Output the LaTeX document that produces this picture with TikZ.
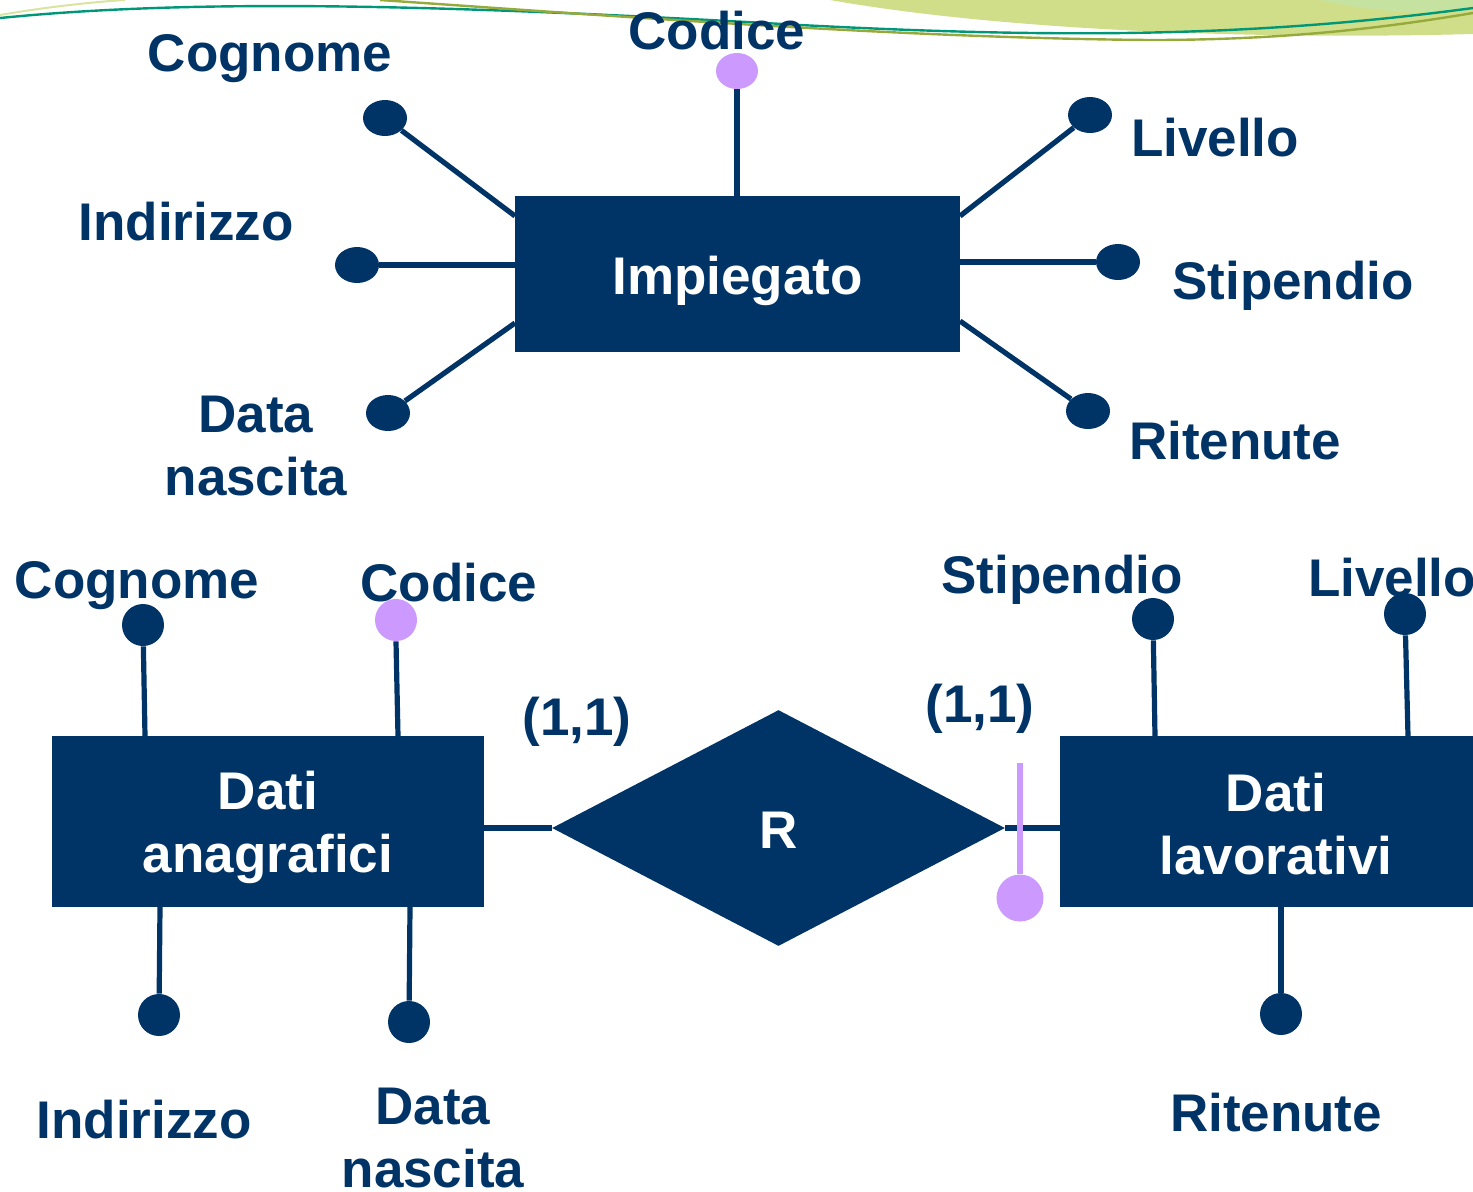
\documentclass[tikz,border=0pt]{standalone}
\usepackage{fontspec}
\setmainfont{Liberation Sans}
\usetikzlibrary{shapes.geometric}
\definecolor{navy}{RGB}{0,51,102}
\definecolor{lilac}{RGB}{204,153,255}
\definecolor{leaf}{RGB}{208,222,138}
\definecolor{leaflight}{RGB}{198,226,160}
\definecolor{teal}{RGB}{0,150,120}
\definecolor{olive}{RGB}{150,170,60}
\begin{document}
\begin{tikzpicture}[x=0.5pt,y=-0.5pt,
  lbl/.style={text=navy,font=\fontsize{26.5}{31.5}\selectfont\bfseries,align=center,inner sep=0pt},
  entity/.style={fill=navy,text=white,font=\fontsize{26.5}{31.5}\selectfont\bfseries,align=center,inner sep=0pt},
  dot/.style={circle,fill=navy,inner sep=0pt,minimum size=21pt},
  oval/.style={ellipse,fill=navy,inner sep=0pt,minimum width=22pt,minimum height=18pt},
  keydot/.style={circle,fill=lilac,inner sep=0pt,minimum size=21pt},
  link/.style={draw=navy,line width=2.6pt},
  keylink/.style={draw=lilac,line width=3pt}]
\useasboundingbox (0,0) rectangle (1473,1191);

% decorative swoosh along the top edge
\fill[leaf] (830,0) .. controls (1000,30) and (1250,40) .. (1473,34) -- (1473,0) -- cycle;
\fill[leaflight] (1320,0) .. controls (1380,14) and (1430,14) .. (1473,10) -- (1473,0) -- cycle;
\draw[leaf!80!white,line width=1pt] (0,15) .. controls (40,8) and (90,2) .. (125,0);
\draw[teal,line width=1.2pt] (0,18) .. controls (200,-2) and (450,5) .. (800,25) .. controls (1050,38) and (1250,38) .. (1473,8);
\draw[olive,line width=1.2pt] (380,0) .. controls (600,15) and (900,38) .. (1150,40) .. controls (1300,40) and (1400,25) .. (1473,13);

% ---------- upper schema ----------
\node[entity,minimum width=222.5pt,minimum height=78pt] (imp) at (737.5,274) {};
\node[entity] (impt) at (737.5,281) {Impiegato};

\node[keydot,ellipse,minimum width=21pt,minimum height=18pt] (cod) at (737,71) {};
\node[oval] (cog) at (385,118) {};
\node[oval] (ind) at (357,265) {};
\node[oval] (dat) at (388,413) {};
\node[oval] (liv) at (1090,115) {};
\node[oval] (sti) at (1118,262) {};
\node[oval] (rit) at (1088,411) {};

\coordinate (iN) at (737,196);
\coordinate (iW1) at (515,216);
\coordinate (iW2) at (515,265);
\coordinate (iW3) at (515,323);
\coordinate (iE1) at (960,216);
\coordinate (iE2) at (960,262);
\coordinate (iE3) at (960,321);

\draw[link] (cod.south) -- (iN);
\draw[link] (cog) -- (iW1);
\draw[link] (ind) -- (iW2);
\draw[link] (dat) -- (iW3);
\draw[link] (liv) -- (iE1);
\draw[link] (sti) -- (iE2);
\draw[link] (rit) -- (iE3);

\node[lbl] (tcod) at (717,31) {Codice};
\node[lbl] (tcog) at (270,59) {Cognome};
\node[lbl] (tind) at (186,222) {Indirizzo};
\node[lbl] (tdat) at (256,446) {Data\\nascita};
\node[lbl] (tliv) at (1215,138) {Livello};
\node[lbl] (tsti) at (1293,286) {Stipendio};
\node[lbl] (trit) at (1235,441) {Ritenute};

% ---------- lower schema ----------
\node[entity,minimum width=216pt,minimum height=85.5pt] (ana) at (268,821.5) {};
\node[entity] (anat) at (268,827) {Dati\\anagrafici};
\node[entity,minimum width=220pt,minimum height=85.5pt] (lav) at (1280,821.5) {};
\node[entity] (lavt) at (1276,824) {Dati\\lavorativi};
\fill[white] (1473,700) rectangle (1600,950);
\node[diamond,fill=navy,text=white,font=\fontsize{26.5}{31.5}\selectfont\bfseries,inner sep=0pt,
      minimum width=226.5pt,minimum height=118pt] (rel) at (778.5,828) {};
\node[entity] (relt) at (778.5,830) {R};

\draw[link] (ana.east |- rel.west) -- (rel.west);
\draw[link] (rel.east) -- (lav.west |- rel.east);

\node[dot] (acog) at (143,625) {};
\node[keydot] (acod) at (396,620) {};
\node[dot] (aind) at (159,1015) {};
\node[dot] (adat) at (409,1022) {};
\node[dot] (lsti) at (1153,619) {};
\node[dot] (lliv) at (1405,614) {};
\node[dot] (lrit) at (1281,1014) {};

\coordinate (aN1) at (145,736);
\coordinate (aN2) at (398,736);
\coordinate (aS1) at (160,907);
\coordinate (aS2) at (410,907);
\coordinate (lN1) at (1155,736);
\coordinate (lN2) at (1408,736);
\coordinate (lS1) at (1281,907);

\draw[link] (acog) -- (aN1);
\draw[link] (acod.south) -- (aN2);
\draw[link] (aind) -- (aS1);
\draw[link] (adat) -- (aS2);
\draw[link] (lsti) -- (lN1);
\draw[link] (lliv) -- (lN2);
\draw[link] (lrit) -- (lS1);

% external identifier marker
\coordinate (idtop) at (1020,763);
\node[keydot,minimum size=23.5pt] (iddot) at (1020,898) {};
\draw[keylink] (idtop) -- (iddot.north);

\node[lbl] (tacog) at (137,586) {Cognome};
\node[lbl] (tacod) at (449,583) {Codice};
\node[lbl] (taind) at (144,1120) {Indirizzo};
\node[lbl] (tadat) at (433,1138) {Data\\nascita};
\node[lbl] (tlsti) at (1062,580) {Stipendio};
\node[lbl] (tlliv) at (1392,578) {Livello};
\node[lbl] (tlrit) at (1276,1113) {Ritenute};

\node[lbl] (c1) at (577,722) {(1,1)};
\node[lbl] (c2) at (980,709) {(1,1)};
\end{tikzpicture}
\end{document}
